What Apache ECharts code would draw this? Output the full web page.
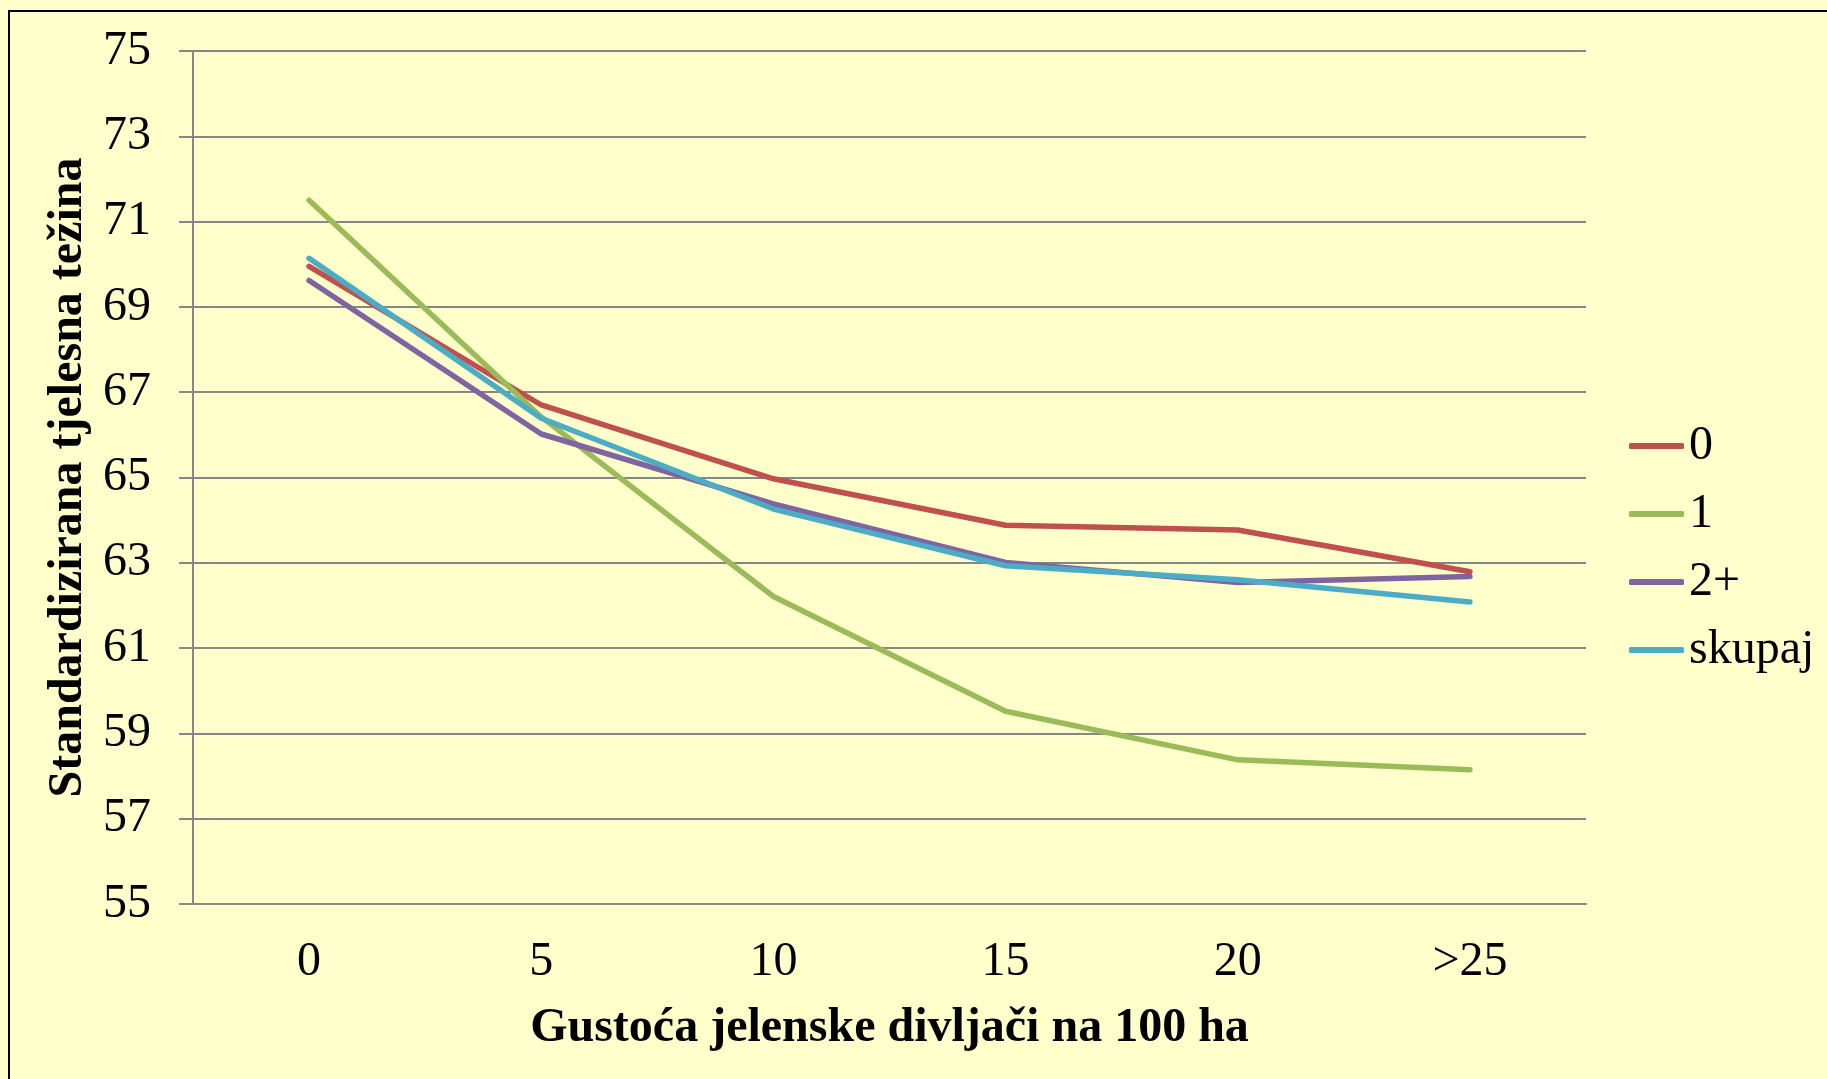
<!DOCTYPE html>
<html>
<head>
<meta charset="utf-8">
<script src="https://cdn.jsdelivr.net/npm/echarts@6/dist/echarts.min.js"></script>
<style>
html,body{margin:0;padding:0;background:#FFFFCC;}
#chart{width:1827px;height:1079px;}
</style>
</head>
<body>
<div id="chart"></div>
<script>
const categories = ['0', '5', '10', '15', '20', '>25'];
const seriesNames = ['0', '1', '2+', 'skupaj'];
const values0 = [69.95, 66.70, 64.97, 63.88, 63.77, 62.79];
const values1 = [71.50, 66.42, 62.21, 59.52, 58.38, 58.15];
const values2 = [69.62, 66.02, 64.38, 63.01, 62.54, 62.68];
const valuesSkupaj = [70.14, 66.39, 64.26, 62.93, 62.60, 62.08];
const colors = ['#C0504D', '#9BBB59', '#8064A2', '#4BACC6'];
const yTicks = { min: 55, max: 75, interval: 2 };

const font = '"Liberation Serif", "Times New Roman", serif';
const allValues = [values0, values1, values2, valuesSkupaj];

const chart = echarts.init(document.getElementById('chart'), null, { renderer: 'canvas' });
chart.setOption({
  backgroundColor: '#FFFFCC',
  animation: false,
  color: colors,
  textStyle: { fontFamily: font },
  graphic: [{
    type: 'rect',
    shape: { x: 9, y: 11, width: 1900, height: 1200 },
    style: { fill: 'none', stroke: '#000', lineWidth: 2 },
    silent: true
  }],
  grid: { left: 193, right: 241, top: 51, bottom: 175 },
  legend: {
    orient: 'vertical',
    left: 1624,
    top: 417,
    itemWidth: 55,
    itemHeight: 6,
    itemGap: 20,
    icon: 'roundRect',
    textStyle: { fontFamily: font, fontSize: 48, color: '#000', lineHeight: 48 },
    data: seriesNames
  },
  xAxis: {
    type: 'category',
    data: categories,
    boundaryGap: true,
    axisLine: { show: true, lineStyle: { color: '#868686', width: 2 } },
    axisTick: { show: false },
    axisLabel: { fontFamily: font, fontSize: 48, color: '#000', margin: 34 },
    name: 'Gustoća jelenske divljači na 100 ha',
    nameLocation: 'middle',
    nameGap: 101,
    nameTextStyle: { fontFamily: font, fontSize: 48, fontWeight: 'bold', color: '#000' }
  },
  yAxis: {
    type: 'value',
    min: yTicks.min,
    max: yTicks.max,
    interval: yTicks.interval,
    axisLine: { show: true, lineStyle: { color: '#868686', width: 2 } },
    axisTick: { show: true, inside: false, length: 14, lineStyle: { color: '#868686', width: 2 } },
    splitLine: { show: true, lineStyle: { color: '#868686', width: 2 } },
    axisLabel: { fontFamily: font, fontSize: 48, color: '#000', margin: 42 },
    name: 'Standardizirana tjelesna težina',
    nameLocation: 'middle',
    nameGap: 94,
    nameRotate: 90,
    nameTextStyle: { fontFamily: font, fontSize: 48, fontWeight: 'bold', color: '#000' }
  },
  series: seriesNames.map((n, i) => ({
    name: n,
    type: 'line',
    data: allValues[i],
    symbol: 'none',
    lineStyle: { width: 5.5, color: colors[i], cap: 'round', join: 'round' },
    itemStyle: { color: colors[i] },
    z: 2
  }))
});
</script>
</body>
</html>
